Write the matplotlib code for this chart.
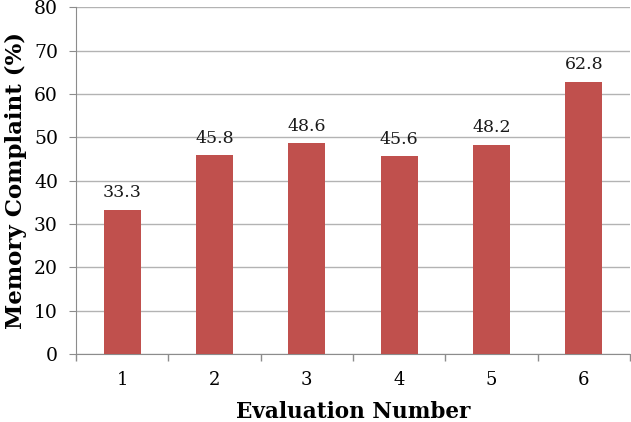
import matplotlib
matplotlib.use('Agg')
from matplotlib import pyplot as plt
import numpy as np

# data
evaluations = ['1', '2', '3', '4', '5', '6']
complaint = [33.3, 45.8, 48.6, 45.6, 48.2, 62.8]

plt.rcParams['font.family'] = ['DejaVu Serif']

fig = plt.figure(figsize=(6.31, 4.22), dpi=100)
ax = fig.add_axes([0.1204, 0.161, 0.878, 0.822])

x = np.arange(1, len(evaluations) + 1)
bars = ax.bar(x, complaint, width=0.4, color='#C0504D', zorder=3)
for b, v in zip(bars, complaint):
	ax.text(b.get_x() + b.get_width() / 2, v + 2, '%.1f' % v,
		ha='center', va='bottom', fontsize=12.5, color='#1a1a1a')

ax.set_xlim(0.5, len(evaluations) + 0.5)
ax.set_ylim(0, 80)
ax.set_yticks(np.arange(0, 81, 10))
ax.set_xticks(x)
ax.set_xticklabels(evaluations)
ax.set_xticks(np.arange(0.5, len(evaluations) + 1, 1), minor=True)
ax.tick_params(axis='x', which='major', length=0, labelsize=13, pad=12)
ax.tick_params(axis='x', which='minor', length=5, color='#8c8c8c', width=1)
ax.tick_params(axis='y', length=5, color='#8c8c8c', labelsize=13.5, pad=8)

ax.yaxis.grid(True, color='#b3b3b3', linewidth=1, zorder=0)
for s in ['top', 'right']:
	ax.spines[s].set_visible(False)
ax.spines['left'].set_color('#8c8c8c')
ax.spines['bottom'].set_color('#8c8c8c')

ax.set_ylabel('Memory Complaint (%)', fontsize=16.5, fontweight='bold', labelpad=5)
ax.set_xlabel('Evaluation Number', fontsize=15.5, fontweight='bold', labelpad=9)

fig.savefig('out.png', dpi=100)
